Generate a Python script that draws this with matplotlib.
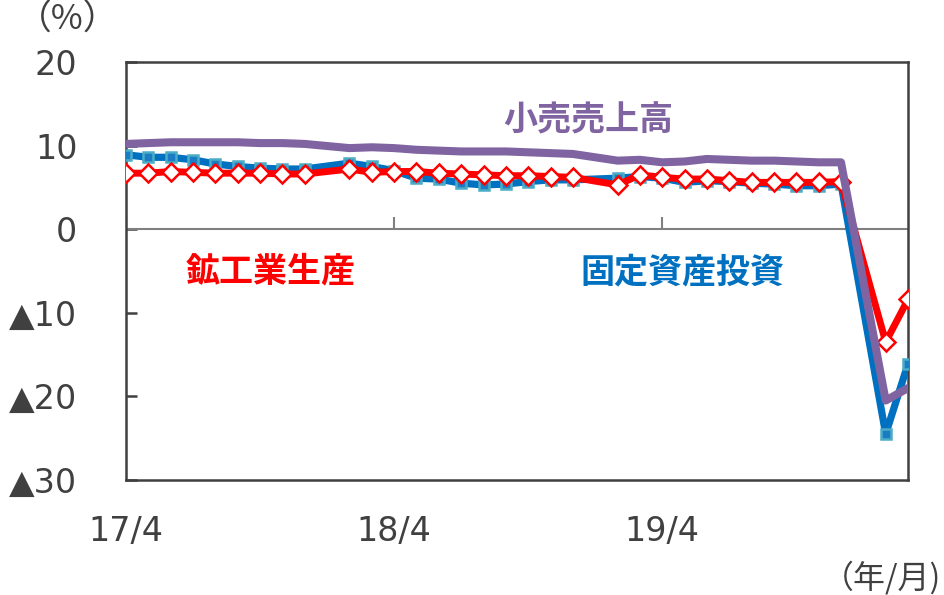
import numpy as np
import matplotlib
matplotlib.use("Agg")
import matplotlib.pyplot as plt

# year-to-date growth (%), Jan figures are merged into Jan-Feb
months = ["2017-04", "2017-05", "2017-06", "2017-07", "2017-08", "2017-09", "2017-10", "2017-11", "2017-12",
          "2018-02", "2018-03", "2018-04", "2018-05", "2018-06", "2018-07", "2018-08", "2018-09", "2018-10",
          "2018-11", "2018-12",
          "2019-02", "2019-03", "2019-04", "2019-05", "2019-06", "2019-07", "2019-08", "2019-09", "2019-10",
          "2019-11", "2019-12",
          "2020-02", "2020-03"]
ind_prod = [6.7, 6.7, 6.9, 6.8, 6.7, 6.7, 6.7, 6.6, 6.6,
            7.2, 6.8, 6.9, 6.9, 6.7, 6.6, 6.5, 6.4, 6.4, 6.3, 6.2,
            5.3, 6.5, 6.2, 6.0, 6.0, 5.8, 5.6, 5.6, 5.6, 5.6, 5.7,
            -13.5, -8.4]
retail = [10.2, 10.3, 10.4, 10.4, 10.4, 10.4, 10.3, 10.3, 10.2,
          9.7, 9.8, 9.7, 9.5, 9.4, 9.3, 9.3, 9.3, 9.2, 9.1, 9.0,
          8.2, 8.3, 8.0, 8.1, 8.4, 8.3, 8.2, 8.2, 8.1, 8.0, 8.0,
          -20.5, -19.0]
fai = [8.9, 8.6, 8.6, 8.3, 7.8, 7.5, 7.3, 7.2, 7.2,
       7.9, 7.5, 7.0, 6.1, 6.0, 5.5, 5.3, 5.4, 5.7, 5.9, 5.9,
       6.1, 6.3, 6.1, 5.6, 5.8, 5.7, 5.5, 5.4, 5.2, 5.2, 5.4,
       -24.5, -16.1]
xtick_labels = ["17/4", "18/4", "19/4"]
ytick_vals = [-30, -20, -10, 0, 10, 20]
ytick_labels = ["▲30", "▲20", "▲10", "0", "10", "20"]

# month index counted from 2017/4
x = np.array([(int(m[:4]) - 2017) * 12 + int(m[5:]) - 4 for m in months])
xticks = [0, 12, 24]

grey = "#404040"
jp = "Noto Sans CJK JP"

fig = plt.figure(figsize=(9.44, 5.95), dpi=100)
ax = fig.add_axes([0.1335, 0.1933, 0.8284, 0.7025])

ax.plot(x, fai, color="#0070c0", lw=5.2, marker="s", ms=6.5, mfc="#1a7cc4",
        mec="#4bacc6", mew=1.8, zorder=3)
ax.plot(x, ind_prod, color="#ff0000", lw=5, marker="D", ms=9.5, mfc="white",
        mec="#ff0000", mew=1.8, zorder=4)
ax.plot(x, retail, color="#8064a2", lw=5.8, zorder=5)

ax.axhline(0, color="#808080", lw=1.5, zorder=2)
ax.vlines(xticks, 0, 1.5, color="#808080", lw=1.5, zorder=2)

ax.set_xlim(0, x[-1])
ax.set_ylim(-30, 20)
ax.set_xticks(xticks)
ax.set_xticklabels(xtick_labels)
ax.set_yticks(ytick_vals)
ax.set_yticklabels(ytick_labels)
ax.tick_params(axis="x", length=0, pad=25, labelsize=24, labelcolor=grey)
ax.tick_params(axis="y", direction="in", length=8, width=1.8, color=grey,
               pad=35, labelsize=24, labelcolor=grey)
for s in ax.spines.values():
    s.set_color(grey)
    s.set_linewidth(1.8)

ax.text(0.591, 0.861, "小売売上高", transform=ax.transAxes, ha="center", va="center",
        fontsize=24.5, fontweight="bold", color="#8064a2", family=jp)
ax.text(0.185, 0.5, "鉱工業生産", transform=ax.transAxes, ha="center", va="center",
        fontsize=24.5, fontweight="bold", color="#ff0000", family=jp)
ax.text(0.712, 0.497, "固定資産投資", transform=ax.transAxes, ha="center", va="center",
        fontsize=24.5, fontweight="bold", color="#0070c0", family=jp)

fig.text(68 / 944, 1 - 20 / 595, "（%）", ha="center", va="center",
         fontsize=25, color=grey, family=jp)
fig.text(941 / 944, 1 - 578 / 595, "（年/月)", ha="right", va="center",
         fontsize=23, color=grey, family=jp)

fig.savefig("out.png", dpi=100)
